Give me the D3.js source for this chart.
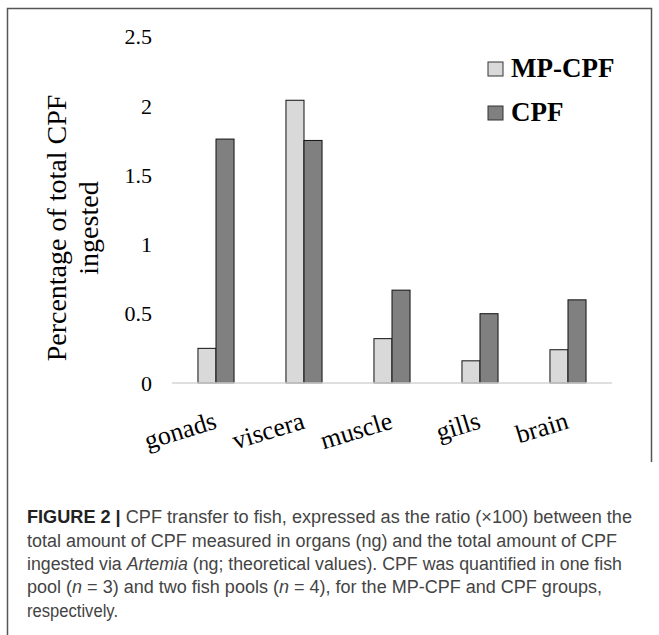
<!DOCTYPE html>
<html>
<head>
<meta charset="utf-8">
<script src="https://cdn.jsdelivr.net/npm/d3@7"></script>
<style>
  html, body { margin: 0; padding: 0; background: #fff; }
  svg { display: block; }
</style>
</head>
<body>
<script>
// ---- data ----
const categories = ["gonads", "viscera", "muscle", "gills", "brain"];
const seriesNames = ["MP-CPF", "CPF"];
const mpCpfValues = [0.25, 2.04, 0.32, 0.16, 0.24];
const cpfValues = [1.76, 1.75, 0.67, 0.50, 0.60];
const yTicks = [0, 0.5, 1, 1.5, 2, 2.5];
const yTitleLines = ["Percentage of total CPF", "ingested"];
const captionLines = [
  [{t: "FIGURE 2 | ", b: true}, {t: "CPF transfer to fish, expressed as the ratio (\u00d7100) between the"}],
  [{t: "total amount of CPF measured in organs (ng) and the total amount of CPF"}],
  [{t: "ingested via "}, {t: "Artemia", i: true}, {t: " (ng; theoretical values). CPF was quantified in one fish"}],
  [{t: "pool ("}, {t: "n", i: true}, {t: " = 3) and two fish pools ("}, {t: "n", i: true}, {t: " = 4), for the MP-CPF and CPF groups,"}],
  [{t: "respectively."}]
];

// ---- layout ----
const W = 659, H = 635;
const colors = {"MP-CPF": "#d9d9d9", "CPF": "#808080"};
const serif = "'Liberation Serif', 'Times New Roman', Times, serif";

const svg = d3.select("body").append("svg").attr("width", W).attr("height", H);

// frame of the chart image
svg.append("path")
  .attr("d", "M7.5,635 L7.5,8.5 L651.5,8.5 L651.5,462")
  .attr("fill", "none").attr("stroke", "#555").attr("stroke-width", 1.5);

const x = d3.scaleBand().domain(categories).range([172, 612])
  .paddingInner(0.59).paddingOuter(0.295);
const xs = d3.scaleBand().domain(seriesNames).range([0, x.bandwidth()]);
const y = d3.scaleLinear().domain([0, 2.5]).range([383, 36.5]);

const rows = categories.map((c, i) => ({cat: c, vals: [
  {s: "MP-CPF", v: mpCpfValues[i]}, {s: "CPF", v: cpfValues[i]}]}));

// y tick labels
svg.append("g").selectAll("text").data(yTicks).join("text")
  .attr("x", 152).attr("y", d => y(d)).attr("dy", "0.35em")
  .attr("text-anchor", "end")
  .attr("font-family", serif).attr("font-size", 22).attr("fill", "#000")
  .text(d => String(d));

// bars
const g = svg.append("g").selectAll("g").data(rows).join("g")
  .attr("transform", d => `translate(${x(d.cat)},0)`);
g.selectAll("rect").data(d => d.vals).join("rect")
  .attr("x", d => xs(d.s)).attr("width", xs.bandwidth())
  .attr("y", d => y(d.v)).attr("height", d => y(0) - y(d.v))
  .attr("fill", d => colors[d.s]).attr("stroke", "#111").attr("stroke-width", 1);

// baseline
svg.append("line")
  .attr("x1", 172).attr("x2", 612).attr("y1", y(0)).attr("y2", y(0))
  .attr("stroke", "#d4d4d4").attr("stroke-width", 1.5);

// x labels
svg.append("g").selectAll("text").data(categories).join("text")
  .attr("transform", d => `translate(${x(d) + x.bandwidth() / 2 + 2},428) rotate(-17)`)
  .attr("text-anchor", "end")
  .attr("font-family", serif).attr("font-size", 26).attr("fill", "#000")
  .text(d => d);

// y title
const yt = svg.append("text")
  .attr("transform", "translate(0,228) rotate(-90)")
  .attr("text-anchor", "middle")
  .attr("font-family", serif).attr("font-size", 28).attr("fill", "#000");
yt.selectAll("tspan").data(yTitleLines).join("tspan")
  .attr("x", 0).attr("y", (d, i) => 66 + i * 32)
  .text(d => d);

// legend
const leg = svg.append("g").selectAll("g").data(seriesNames).join("g")
  .attr("transform", (d, i) => `translate(488,${62 + i * 44})`);
leg.append("rect").attr("width", 15).attr("height", 14)
  .attr("fill", d => colors[d]).attr("stroke", "#333").attr("stroke-width", 1);
leg.append("text").attr("x", 23).attr("y", 15)
  .attr("font-family", serif).attr("font-size", 27).attr("font-weight", "bold")
  .attr("fill", "#000").text(d => d);

// caption
const capY = [523, 547, 570, 593, 617];
const capW = [605, 590, 595, 575, 91];
captionLines.forEach((parts, i) => {
  const t = svg.append("text")
    .attr("x", 27).attr("y", capY[i])
    .attr("font-family", "'Liberation Sans Narrow', 'Liberation Sans', Arial, sans-serif")
    .attr("font-size", 18).attr("fill", "#444")
    .attr("textLength", capW[i]).attr("lengthAdjust", "spacingAndGlyphs");
  parts.forEach(p => {
    const ts = t.append("tspan").text(p.t);
    if (p.b) ts.attr("font-weight", "bold").attr("fill", "#222");
    if (p.i) ts.attr("font-style", "italic");
  });
});
</script>
</body>
</html>
